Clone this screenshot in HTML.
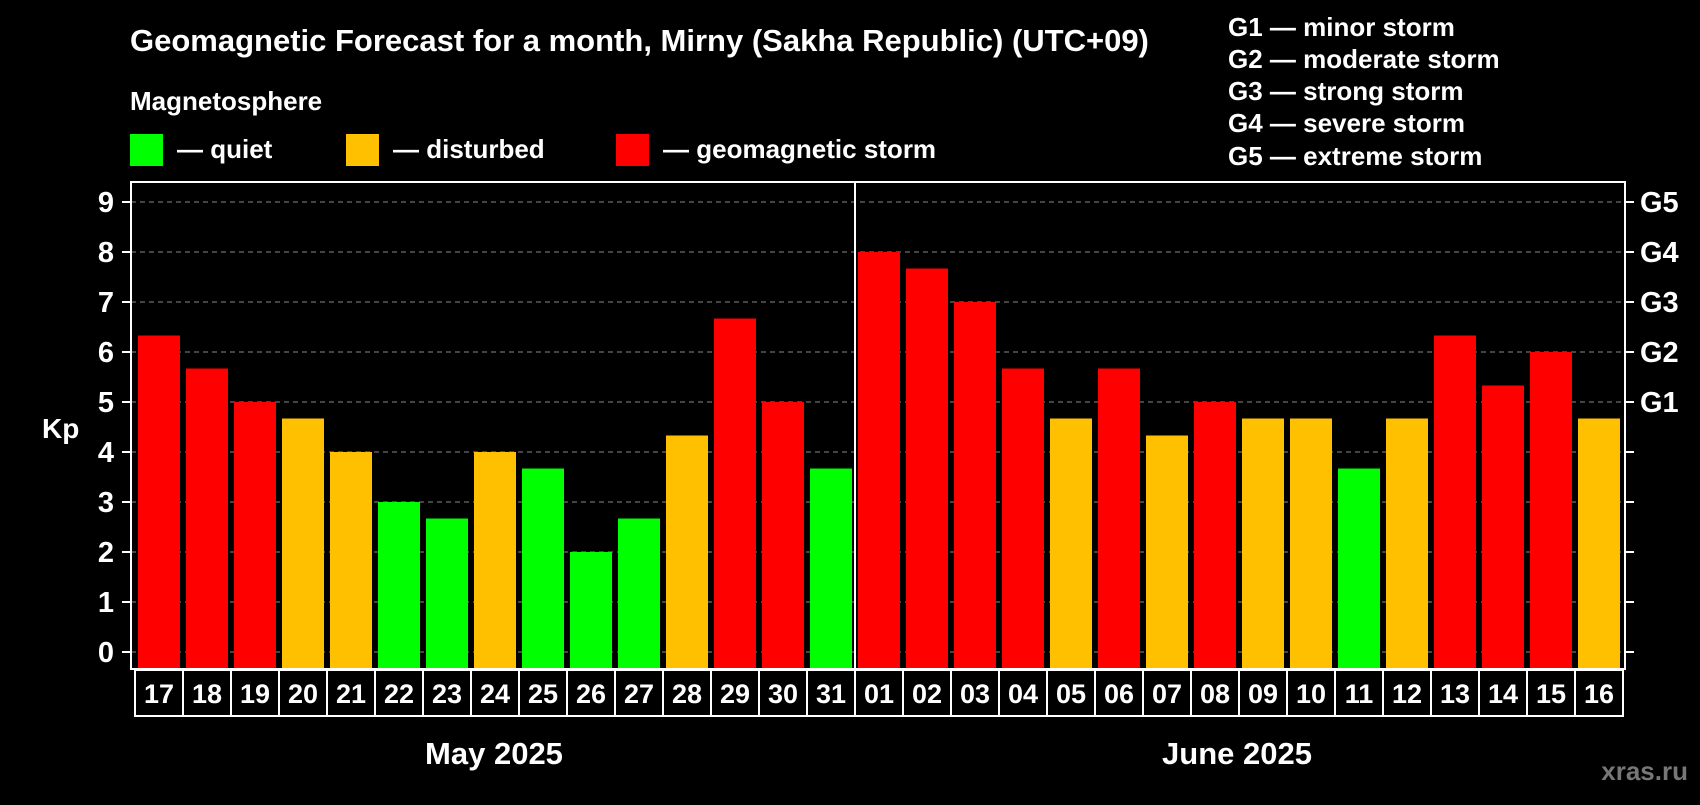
<!DOCTYPE html>
<html><head><meta charset="utf-8"><style>
body{margin:0;background:#000;width:1700px;height:800px;overflow:hidden;font-family:"Liberation Sans",Arial,sans-serif;}
svg text{font-family:"Liberation Sans",Arial,sans-serif;font-weight:bold;fill:#fff;}
</style></head><body>
<svg id="c" width="1700" height="800">
<text x="130" y="51" font-size="31">Geomagnetic Forecast for a month, Mirny (Sakha Republic) (UTC+09)</text>
<text x="130" y="110" font-size="26">Magnetosphere</text>
<g><rect x="130" y="134" width="33" height="32" fill="#00ff00"/><text x="177" y="158" font-size="26">— quiet</text></g>
<g><rect x="346" y="134" width="33" height="32" fill="#ffc000"/><text x="393" y="158" font-size="26">— disturbed</text></g>
<g><rect x="616" y="134" width="33" height="32" fill="#ff0000"/><text x="663" y="158" font-size="26">— geomagnetic storm</text></g>
<g font-size="26">
<text x="1228" y="36">G1 — minor storm</text><text x="1228" y="68">G2 — moderate storm</text><text x="1228" y="100">G3 — strong storm</text><text x="1228" y="132">G4 — severe storm</text><text x="1228" y="165">G5 — extreme storm</text></g>
<text x="42" y="438" font-size="28">Kp</text>
<g id="plot"></g>
<text x="494" y="764" font-size="31" text-anchor="middle">May 2025</text>
<text x="1237" y="764" font-size="31" text-anchor="middle">June 2025</text>
<text x="1688" y="780" font-size="26" text-anchor="end" style="fill:#777">xras.ru</text>
</svg>
<script>
const days=["17","18","19","20","21","22","23","24","25","26","27","28","29","30","31","01","02","03","04","05","06","07","08","09","10","11","12","13","14","15","16"];
const kp=[6.33,5.67,5,4.67,4,3,2.67,4,3.67,2,2.67,4.33,6.67,5,3.67,8,7.67,7,5.67,4.67,5.67,4.33,5,4.67,4.67,3.67,4.67,6.33,5.33,6,4.67];
const yTicks=[0,1,2,3,4,5,6,7,8,9];
const gLabels=["G1","G2","G3","G4","G5"];
const NS="http://www.w3.org/2000/svg";
const g=document.getElementById('plot');
const L=131,R=1625,T=182,B=669;
const y=v=>652-v*50;
const pitch=(R-L-6)/days.length;
const x0=i=>138+i*pitch;
function mk(t,a,p){const e=document.createElementNS(NS,t);for(const k in a)e.setAttribute(k,a[k]);(p||g).appendChild(e);return e;}
yTicks.forEach(v=>{
 const gl=mk('line',{x1:L,x2:R,y1:y(v),y2:y(v),stroke:'#888','stroke-dasharray':'5,4','stroke-width':1});
 
 
 mk('line',{x1:L-9,x2:L,y1:y(v),y2:y(v),stroke:'#fff','stroke-width':2});
 mk('line',{x1:R,x2:R+9,y1:y(v),y2:y(v),stroke:'#fff','stroke-width':2});
 const t=mk('text',{x:106,y:y(v)+10,'font-size':29,'text-anchor':'middle'});t.textContent=v;
 
 
});
gLabels.forEach((s,i)=>{const t=mk('text',{x:1640,y:y(5+i)+10,'font-size':29});t.textContent=s;
 
 });
kp.forEach((v,i)=>{
 const col=v>=5?'#ff0000':(v>=4?'#ffc000':'#00ff00');
 const r=mk('rect',{x:x0(i),y:y(v),width:pitch-6,height:B-y(v),fill:col});
 
 
 const bx=mk('rect',{x:x0(i)-3,y:B+1,width:pitch,height:46,fill:'none',stroke:'#fff','stroke-width':2});
 
 
 const t=mk('text',{x:x0(i)+(pitch-6)/2,y:B+34,'font-size':27,'text-anchor':'middle'});t.textContent=days[i];
 
 
});
const fr=mk('rect',{x:L,y:T,width:R-L,height:B-T,fill:'none',stroke:'#fff','stroke-width':2});


const sx=x0(15)-3;
const sep=mk('line',{x1:sx,x2:sx,y1:T,y2:B,stroke:'#fff','stroke-width':2});


</script>
</body></html>
